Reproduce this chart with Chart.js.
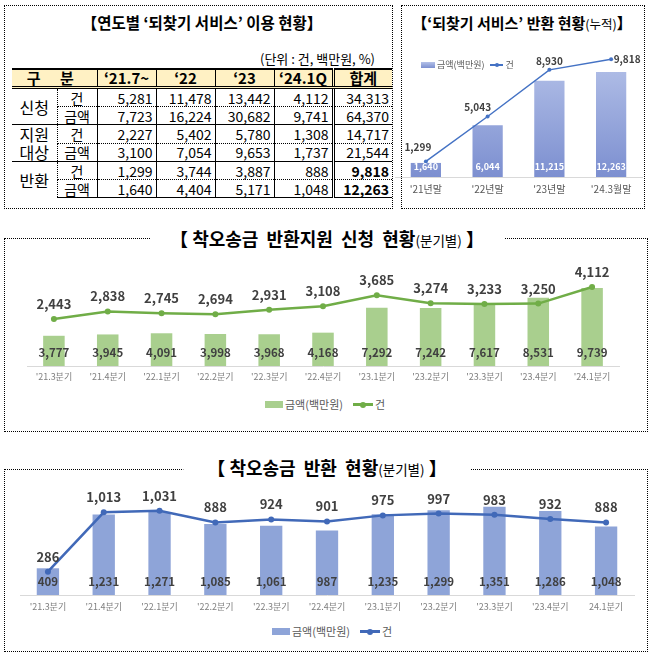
<!DOCTYPE html>
<html>
<head>
<meta charset="utf-8">
<script src="https://cdn.jsdelivr.net/npm/chart.js@4.4.1/dist/chart.umd.min.js"></script>
<style>
body{margin:0;width:653px;height:657px;position:relative;overflow:hidden;background:#fff;font-family:"Noto Sans CJK KR",sans-serif;}
.box{position:absolute;border:1px dotted #000;box-sizing:border-box;}
.ttl{position:absolute;font-weight:bold;color:#000;white-space:nowrap;transform:translate(-50%,-50%);background:#fff;line-height:1.2;}
.ttl small{font-weight:normal;}
canvas{position:absolute;}
.lg{position:absolute;color:#595959;white-space:nowrap;display:flex;align-items:center;line-height:1;}
.sw{display:inline-block;margin-right:2px;}
.ln{display:inline-block;position:relative;margin-right:2px;}
.ln i{position:absolute;left:50%;top:50%;border-radius:50%;transform:translate(-50%,-50%);}
#tbl{position:absolute;left:12px;top:68px;border-collapse:collapse;table-layout:fixed;width:380px;}
#tbl th{background:#FFF1C4;height:16px;font-size:15px;font-weight:bold;border-top:2px solid #000;border-bottom:3px double #000;border-left:1px solid #000;padding:0;line-height:16px;text-align:center;}
#tbl th:first-child{border-left:none;}
#tbl td{height:17px;font-size:14px;padding:0 3px 0 0;text-align:right;line-height:16px;border-left:1px solid #000;}
#tbl td.g{text-align:center;font-size:16px;padding:0;border-left:none;line-height:18px;}
#tbl td.s{text-align:center;padding:0;border-left:1px dotted #000;}
#tbl .sum{border-left:3px double #000;}
#tbl tr.a td{border-top:1px solid #000;}
#tbl tr.b td{border-top:1px dotted #000;}
#tbl tr.last td{border-bottom:1px solid #000;}
</style>
</head>
<body>

<div class="box" style="left:4px;top:5px;width:389px;height:204px;"></div>
<div class="ttl" style="left:202px;top:22px;font-size:15.5px;">【연도별 ‘되찾기 서비스’ 이용 현황】</div>
<div style="position:absolute;right:278px;top:49px;font-size:13px;color:#000;white-space:nowrap;">(단위 : 건, 백만원, %)</div>
<table id="tbl"></table>

<div class="box" style="left:401px;top:5px;width:244px;height:204px;"></div>
<div class="ttl" style="left:522px;top:23px;font-size:15px;">【‘되찾기 서비스’ 반환 현황<small style="font-size:12.5px;">(누적)</small>】</div>
<canvas id="cumChart" width="258" height="160" style="left:390px;top:40px;"></canvas>
<div class="lg" style="left:421px;top:60px;font-size:9px;">
  <span class="sw" style="width:14px;height:6px;background:linear-gradient(#B4C1E8,#7C8FD0);"></span>금액(백만원)
  <span class="ln" style="width:13px;height:2px;background:#4472C4;margin-left:6px;"><i style="width:4px;height:4px;background:#4472C4;"></i></span>건
</div>

<div class="box" style="left:4px;top:238px;width:644px;height:194px;"></div>
<div class="ttl" style="left:327px;top:239px;font-size:18px;padding:0 20px;">【 착오송금 &nbsp;반환지원 &nbsp;신청 &nbsp;현황<small style="font-size:13.5px;">(분기별)</small> 】</div>
<canvas id="applyChart" width="653" height="140" style="left:0;top:250px;"></canvas>
<div class="lg" style="left:265px;top:399px;font-size:11px;">
  <span class="sw" style="width:18px;height:7px;background:#A9CF8E;"></span>금액(백만원)
  <span class="ln" style="width:20px;height:3px;background:#70AD47;margin-left:10px;"><i style="width:6px;height:6px;background:#70AD47;"></i></span>건
</div>

<div class="box" style="left:4px;top:469px;width:644px;height:183px;"></div>
<div class="ttl" style="left:327px;top:468px;font-size:18px;padding:0 24px;">【 착오송금 &nbsp;반환 &nbsp;현황<small style="font-size:13.5px;">(분기별)</small> 】</div>
<canvas id="returnChart" width="653" height="135" style="left:0;top:480px;"></canvas>
<div class="lg" style="left:272px;top:626px;font-size:11px;">
  <span class="sw" style="width:18px;height:7px;background:#8EA4D8;"></span>금액(백만원)
  <span class="ln" style="width:20px;height:3px;background:#4169B8;margin-left:10px;"><i style="width:6px;height:6px;background:#4169B8;"></i></span>건
</div>

<script>
// table values: '21.7~, '22, '23, '24.1Q, total
const tableHeads = ["‘21.7~", "‘22", "‘23", "‘24.1Q", "합계"];
const tblApplyCnt = [5281, 11478, 13442, 4112, 34313];
const tblApplyAmt = [7723, 16224, 30682, 9741, 64370];
const tblTargetCnt = [2227, 5402, 5780, 1308, 14717];
const tblTargetAmt = [3100, 7054, 9653, 1737, 21544];
const tblReturnCnt = [1299, 3744, 3887, 888, 9818];
const tblReturnAmt = [1640, 4404, 5171, 1048, 12263];

// cumulative returns
const cumLabels = ["'21년말", "'22년말", "'23년말", "'24.3월말"];
const cumAmount = [1640, 6044, 11215, 12263];
const cumCount = [1299, 5043, 8930, 9818];

// quarterly applications
const applyQuarters = ["'21.3분기", "'21.4분기", "'22.1분기", "'22.2분기", "'22.3분기", "'22.4분기", "'23.1분기", "'23.2분기", "'23.3분기", "'23.4분기", "'24.1분기"];
const applyAmount = [3777, 3945, 4091, 3998, 3968, 4168, 7292, 7242, 7617, 8531, 9739];
const applyCount = [2443, 2838, 2745, 2694, 2931, 3108, 3685, 3274, 3233, 3250, 4112];

// quarterly returns
const returnQuarters = ["'21.3분기", "'21.4분기", "'22.1분기", "'22.2분기", "'22.3분기", "'22.4분기", "'23.1분기", "'23.2분기", "'23.3분기", "'23.4분기", "24.1분기"];
const returnAmount = [409, 1231, 1271, 1085, 1061, 987, 1235, 1299, 1351, 1286, 1048];
const returnCount = [286, 1013, 1031, 888, 924, 901, 975, 997, 983, 932, 888];

const FONT = '"Noto Sans CJK KR", sans-serif';
const fmt = v => String(v).replace(/\B(?=(\d{3})+(?!\d))/g, ',');

// build the table
const tbl = document.getElementById('tbl');
let html = '<colgroup><col style="width:45px"><col style="width:40px"><col style="width:59px"><col style="width:59px"><col style="width:59px"><col style="width:59px"><col style="width:59px"></colgroup>';
html += '<tr><th colspan="2" style="letter-spacing:8px;">구 분</th>';
tableHeads.forEach((h, i) => { html += `<th${i == 4 ? ' class="sum"' : ''}>${h}</th>`; });
html += '</tr>';
const groups = [
  ['신청', tblApplyCnt, tblApplyAmt],
  ['지원<br>대상', tblTargetCnt, tblTargetAmt],
  ['반환', tblReturnCnt, tblReturnAmt]
];
groups.forEach((g, gi) => {
  ['건', '금액'].forEach((sub, si) => {
    const vals = si == 0 ? g[1] : g[2];
    let cls = si == 0 ? 'a' : 'b';
    if (gi == 2 && si == 1) cls += ' last';
    html += `<tr class="${cls}">`;
    if (si == 0) html += `<td class="g" rowspan="2">${g[0]}</td>`;
    html += `<td class="s">${sub}</td>`;
    vals.forEach((v, i) => {
      const bold = gi == 2 && i == 4 ? 'font-weight:bold;' : '';
      html += `<td${i == 4 ? ' class="sum"' : ''} style="${bold}">${fmt(v)}</td>`;
    });
    html += '</tr>';
  });
});
tbl.innerHTML = html;

// draws value labels on bars and line points
function valueLabels(cfg) {
  return {
    id: 'valueLabels',
    afterDatasetsDraw(chart) {
      const {ctx, chartArea} = chart;
      ctx.save();
      ctx.textAlign = 'center';
      ctx.textBaseline = 'middle';
      chart.data.datasets.forEach((ds, i) => {
        const meta = chart.getDatasetMeta(i);
        const st = ds.type === 'line' ? cfg.line : cfg.bar;
        ctx.font = st.font;
        ctx.fillStyle = st.color;
        meta.data.forEach((el, j) => {
          let x = el.x, y;
          if (ds.type === 'line') {
            const off = (st.offsets && st.offsets[j]) || [0, -st.above];
            x += off[0];
            y = el.y + off[1];
          } else {
            y = chartArea.bottom - st.fromBottom;
          }
          ctx.fillText(fmt(ds.data[j]), x, y);
        });
      });
      ctx.restore();
    }
  };
}

function comboChart(id, labels, barVals, lineVals, o) {
  const ctx = document.getElementById(id).getContext('2d');
  return new Chart(ctx, {
    type: 'bar',
    data: {
      labels: labels,
      datasets: [
        {
          type: 'line', label: '건', data: lineVals, yAxisID: 'yLine', order: 0,
          borderColor: o.lineColor, backgroundColor: o.lineColor, borderWidth: o.lineWidth,
          pointRadius: o.pointRadius, pointBackgroundColor: o.lineColor, pointBorderWidth: 0, tension: 0
        },
        {
          type: 'bar', label: '금액(백만원)', data: barVals, yAxisID: 'yBar', order: 1,
          backgroundColor: o.barColor, barPercentage: o.barPct, categoryPercentage: 1
        }
      ]
    },
    options: {
      responsive: false,
      animation: false,
      layout: { padding: o.padding },
      scales: {
        x: {
          grid: { display: false, drawTicks: false },
          border: { color: '#D9D9D9', width: 1 },
          ticks: { font: { family: FONT, size: o.tickSize }, color: o.tickColor, padding: o.tickPad, maxRotation: 0 },
          afterFit(s) { s.height = o.axisH; }
        },
        yBar: { display: false, min: 0, max: o.barMax },
        yLine: { display: false, min: 0, max: o.lineMax }
      },
      plugins: { legend: { display: false }, tooltip: { enabled: false } }
    },
    plugins: [valueLabels(o.labels)]
  });
}

// cumulative chart
comboChart('cumChart', cumLabels, cumAmount, cumCount, {
  lineColor: '#4472C4', lineWidth: 1.5, pointRadius: 2,
  barColor: c => {
    const a = c.chart.chartArea;
    if (!a) return '#95A6DC';
    const g = c.chart.ctx.createLinearGradient(0, a.top, 0, a.bottom);
    g.addColorStop(0, '#B4C1E8');
    g.addColorStop(1, '#7C8FD0');
    return g;
  },
  barPct: 0.49, padding: { left: 5, right: 6, top: 17, bottom: 0 },
  tickSize: 10, tickColor: '#595959', tickPad: 6, axisH: 23,
  barMax: 14000, lineMax: 10000,
  labels: {
    line: { font: 'bold 10px ' + FONT, color: '#404040', offsets: [[-8, -14], [-10, -9], [0, -9], [16, 0]] },
    bar: { font: 'bold 9px ' + FONT, color: '#FFFFFF', fromBottom: 10 }
  }
});

// quarterly applications
comboChart('applyChart', applyQuarters, applyAmount, applyCount, {
  lineColor: '#70AD47', lineWidth: 2.5, pointRadius: 3,
  barColor: '#A9CF8E', barPct: 0.4,
  padding: { left: 27, right: 34, top: 20, bottom: 0 },
  tickSize: 9, tickColor: '#7F7F7F', tickPad: 5, axisH: 24,
  barMax: 12000, lineMax: 5000,
  labels: {
    line: { font: 'bold 13px ' + FONT, color: '#404040', above: 15 },
    bar: { font: 'bold 11.5px ' + FONT, color: '#404040', fromBottom: 13 }
  }
});

// quarterly returns
comboChart('returnChart', returnQuarters, returnAmount, returnCount, {
  lineColor: '#4169B8', lineWidth: 2.5, pointRadius: 3,
  barColor: '#8EA4D8', barPct: 0.4,
  padding: { left: 20, right: 19, top: 17, bottom: 0 },
  tickSize: 9, tickColor: '#7F7F7F', tickPad: 6, axisH: 20,
  barMax: 1500, lineMax: 1200,
  labels: {
    line: { font: 'bold 13px ' + FONT, color: '#404040', above: 15 },
    bar: { font: 'bold 11.5px ' + FONT, color: '#404040', fromBottom: 13 }
  }
});
</script>
</body>
</html>
